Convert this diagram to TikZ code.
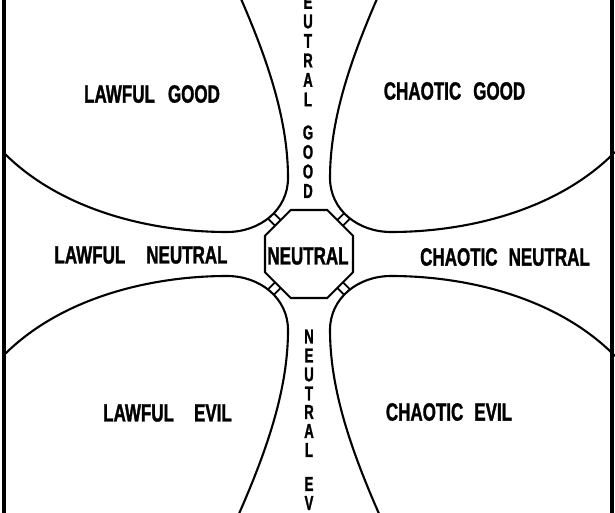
\documentclass[tikz,border=0pt]{standalone}
\usepackage{fontspec}
\usetikzlibrary{shapes.geometric,intersections}
\newfontfamily\lblfont[FakeStretch=0.68,FakeBold=1.2]{Liberation Sans}
\newfontfamily\vertfont[FakeStretch=0.66,FakeBold=1.2]{Liberation Sans}
\tikzset{
  lbl/.style={font=\lblfont\bfseries\fontsize{25}{25}\selectfont, inner sep=0pt},
  vlet/.style={font=\vertfont\bfseries\fontsize{20}{20}\selectfont, inner sep=0pt},
  lobe/.style={line width=2.1pt},
  bridge/.style={line width=1.8pt},
  border/.style={line width=3.2pt},
  octa/.style={regular polygon, regular polygon sides=8, minimum size=95.3pt, draw, line width=2.1pt, inner sep=0pt}
}
\def\lobepath{(-71,-262) .. controls (-41,-194) and (-21,-134) .. (-21,-76) .. controls (-21,-44) and (-49,-22) .. (-82,-22) .. controls (-159,-22) and (-249,-44) .. (-306,-102)}
\begin{document}
\begin{tikzpicture}[x=1pt,y=-1pt]
  \useasboundingbox (0,0) rectangle (615,513);
  \clip (0,0) rectangle (615,513);
  \fill[white] (0,0) rectangle (615,513);
  % borders
  \draw[border] (4,-5) -- (4,520);
  \draw[border] (612,-5) -- (612,520);
  % central octagon
  \node[octa] (oct) at (309,254) {};
  \node[lbl] (neu) at (308,256) {NEUTRAL};
  % four lobes with bridges
  \foreach \sx/\sy in {1/1,-1/1,1/-1,-1/-1}{
    \begin{scope}[shift={(309,254)}, xscale=\sx, yscale=\sy]
      \draw[lobe, name path=lobeP] \lobepath;
      \path[name path=raP] (-33.96,-28.30) -- ++(-25,-25);
      \path[name path=rbP] (-28.30,-33.96) -- ++(-25,-25);
      \path[name intersections={of=lobeP and raP, by=pa}];
      \path[name intersections={of=lobeP and rbP, by=pb}];
      \draw[bridge] (-33.96,-28.30) -- (pa);
      \draw[bridge] (-28.30,-33.96) -- (pb);
    \end{scope}
  }
  % horizontal labels
  \node[lbl] (lg) at (152,94) {LAWFUL\hspace{13pt}GOOD};
  \node[lbl] (cg) at (454.5,91) {CHAOTIC\hspace{12pt}GOOD};
  \node[lbl] (ln) at (141,255) {LAWFUL\hspace{21pt}NEUTRAL};
  \node[lbl] (cn) at (505,257) {CHAOTIC\hspace{11pt}NEUTRAL};
  \node[lbl] (le) at (167.5,413) {LAWFUL\hspace{20pt}EVIL};
  \node[lbl] (ce) at (449,412) {CHAOTIC\hspace{11pt}EVIL};
  % vertical labels (as far as the picture shows them)
  \foreach \l/\y [count=\i] in {E/2,U/21.5,T/41,R/60.5,A/80,L/99.5,G/132.5,O/152,O/171.5,D/191}
    \node[vlet] (ng\i) at (308,\y) {\l};
  \foreach \l/\y [count=\i] in {N/336.5,E/355.5,U/374.5,T/393.5,R/412,A/431,L/450,E/484,V/503}
    \node[vlet] (ne\i) at (309,\y) {\l};
\end{tikzpicture}
\end{document}
